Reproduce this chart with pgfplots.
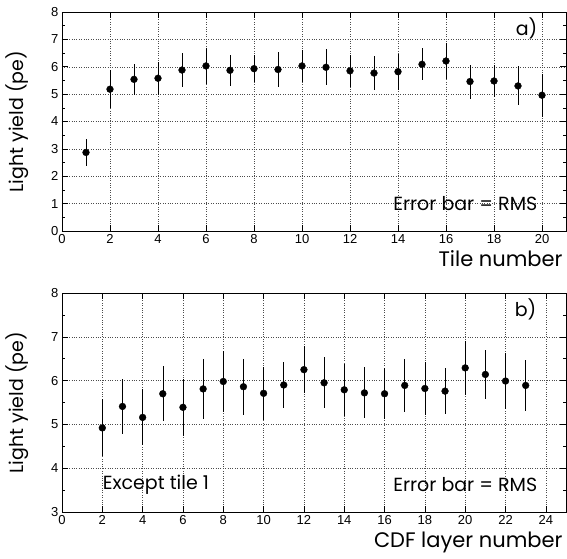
\documentclass[border=0pt]{standalone}
\usepackage{fontspec}
\setmainfont{Liberation Sans}
\newfontfamily\labelfont{Poppins}
\usepackage{pgfplots}
\pgfplotsset{compat=1.18}

\pgfplotstableread{
x  y     e
1  2.87  0.48
2  5.18  0.69
3  5.54  0.56
4  5.58  0.61
5  5.88  0.63
6  6.03  0.65
7  5.87  0.56
8  5.93  0.49
9  5.90  0.64
10 6.03  0.60
11 5.98  0.66
12 5.85  0.59
13 5.77  0.62
14 5.82  0.66
15 6.09  0.58
16 6.21  0.64
17 5.46  0.62
18 5.48  0.58
19 5.30  0.71
20 4.96  0.78
}\tiles

\pgfplotstableread{
x  y     e
2  4.92  0.65
3  5.41  0.63
4  5.16  0.64
5  5.70  0.63
6  5.39  0.65
7  5.81  0.69
8  5.98  0.69
9  5.86  0.64
10 5.71  0.60
11 5.90  0.53
12 6.25  0.53
13 5.95  0.58
14 5.79  0.59
15 5.72  0.58
16 5.70  0.58
17 5.89  0.61
18 5.82  0.60
19 5.76  0.52
20 6.29  0.61
21 6.14  0.57
22 5.99  0.63
23 5.89  0.59
}\layers

\pgfplotsset{
  lypanel/.style={
    scale only axis, width=504pt, height=219pt,
    axis line style={black, line width=0.7pt},
    tick style={black, line width=0.6pt},
    tick align=inside,
    major tick length=6pt, minor tick length=3pt,
    xtick distance=2, ytick distance=1,
    minor y tick num=1,
    xmajorgrids, ymajorgrids,
    major grid style={dotted, black!70, line width=0.45pt},
    tick label style={font=\fontsize{13}{13}\selectfont},
    /pgf/number format/assume math mode=true,
    every axis y label/.style={at={(axis description cs:-0.0893,0.5)}, rotate=90, anchor=center},
    every axis x label/.style={at={(axis description cs:1,0)}, anchor=north east, yshift=-16pt},
    ylabel style={font=\labelfont\fontsize{19}{19}\selectfont},
    xlabel style={font=\labelfont\fontsize{21}{21}\selectfont},
    ylabel={Light yield (pe)},
  },
  lydata/.style={
    only marks, mark=*, mark size=3.4pt, black,
    error bars/.cd, y dir=both, y explicit, error mark=none,
    error bar style={line width=0.6pt, black},
  },
}

\begin{document}
\begin{tikzpicture}
\path[use as bounding box] (0pt,0pt) rectangle (567pt,558pt);

\begin{axis}[lypanel, at={(62pt,327pt)}, anchor=south west,
    xmin=0, xmax=21, ymin=0, ymax=8,
    xlabel={Tile number}]
\addplot[lydata] table[x=x, y=y, y error=e] {\tiles};
\node[anchor=east, font=\labelfont\fontsize{19}{19}\selectfont] at (axis cs:19.95,1.0) {Error bar = RMS};
\node[anchor=east, font=\labelfont\fontsize{19}{19}\selectfont] at (axis cs:19.95,7.4) {a)};
\end{axis}

\begin{axis}[lypanel, at={(62pt,46pt)}, anchor=south west,
    xmin=0, xmax=25, ymin=3, ymax=8,
    xlabel={CDF layer number}]
\addplot[lydata] table[x=x, y=y, y error=e] {\layers};
\node[anchor=west, font=\labelfont\fontsize{19}{19}\selectfont] at (axis cs:1.85,3.63) {Except tile 1};
\node[anchor=east, font=\labelfont\fontsize{19}{19}\selectfont] at (axis cs:23.75,3.63) {Error bar = RMS};
\node[anchor=east, font=\labelfont\fontsize{19}{19}\selectfont] at (axis cs:23.7,7.63) {b)};
\end{axis}
\end{tikzpicture}
\end{document}
